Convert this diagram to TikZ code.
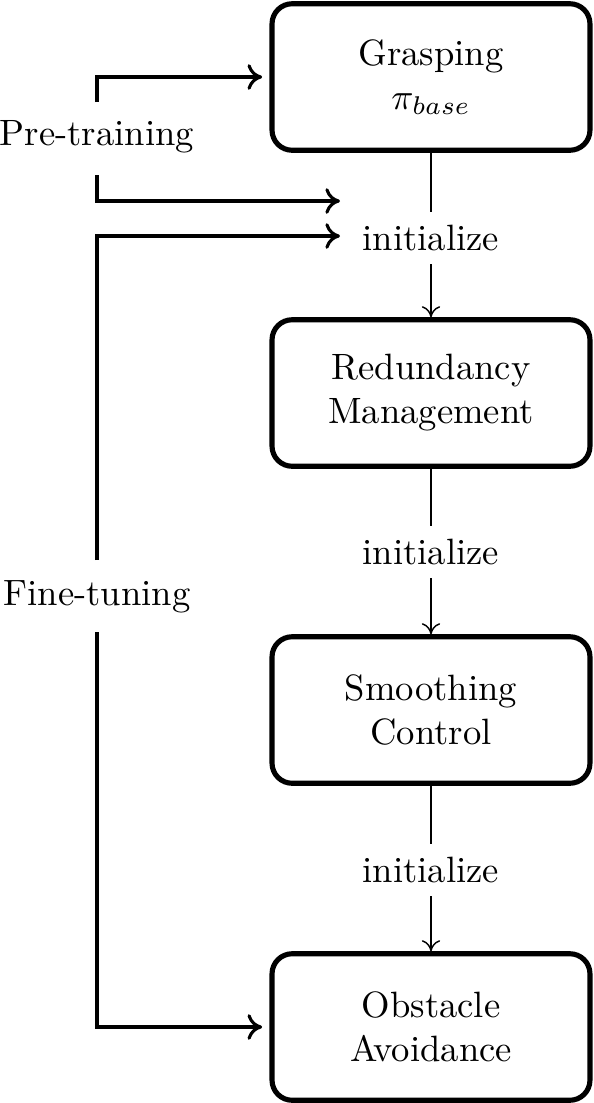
\documentclass[tikz,border=0pt]{standalone}
\usetikzlibrary{arrows.meta}
\begin{document}
\begin{tikzpicture}[x=0.273pt,y=-0.273pt,
  stagebox/.style={draw,line width=1.4pt,rounded corners=5.5pt,minimum width=86.8pt,minimum height=40pt,align=center,inner sep=0pt},
  plain/.style={align=center,inner sep=2pt},
  initlabel/.style={align=center,inner sep=3.5pt},
  side/.style={line width=0.85pt,-{To[length=4pt,width=7pt]}},
  flowline/.style={line width=0.4pt},
  flow/.style={line width=0.4pt,-{To[length=3pt,width=5pt]}}]
\useasboundingbox (0,0) rectangle (594,1103);
\node[stagebox] (g) at (431,77) {Grasping\\$\pi_{base}$};
\node[stagebox] (r) at (431,393) {Redundancy\\Management};
\node[stagebox] (s) at (431,710) {Smoothing\\Control};
\node[stagebox] (o) at (431,1027) {Obstacle\\Avoidance};
\node[initlabel] (i1) at (431,238) {initialize};
\node[initlabel] (i2) at (431,552) {initialize};
\node[initlabel] (i3) at (431,870) {initialize};
\node[plain] (pt) at (97,137) {Pre-training};
\node[plain] (ft) at (97,597) {Fine-tuning};
\coordinate (a1) at (97,102);
\coordinate (a2) at (97,175);
\coordinate (a3) at (97,560);
\coordinate (a4) at (97,632);
\coordinate (t2) at (340,201);
\coordinate (t3) at (340,236);
\draw[flowline] (g.south) -- (i1.north);
\draw[flow] (i1.south) -- (r.north);
\draw[flowline] (r.south) -- (i2.north);
\draw[flow] (i2.south) -- (s.north);
\draw[flowline] (s.south) -- (i3.north);
\draw[flow] (i3.south) -- (o.north);
\draw[side] (a1) |- ([xshift=-2pt]g.west);
\draw[side] (a2) |- (t2);
\draw[side] (a3) |- (t3);
\draw[side] (a4) |- ([xshift=-2pt]o.west);
\end{tikzpicture}
\end{document}
